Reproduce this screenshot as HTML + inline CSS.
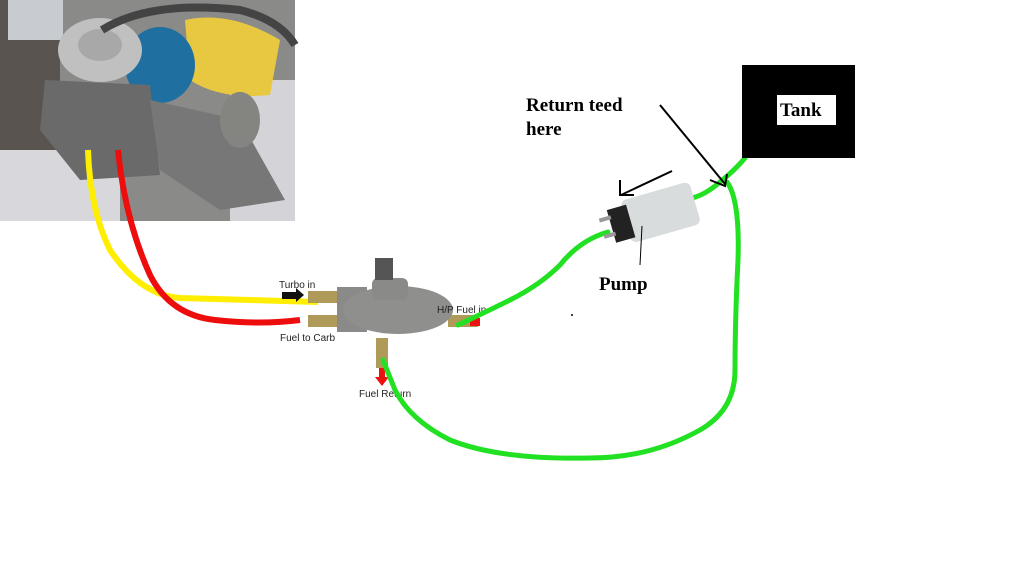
<!DOCTYPE html>
<html><head><meta charset="utf-8"><style>
html,body{margin:0;padding:0;background:#fff;width:1024px;height:564px;overflow:hidden}
</style></head><body>
<svg width="1024" height="564" viewBox="0 0 1024 564" xmlns="http://www.w3.org/2000/svg">
<rect width="1024" height="564" fill="#fff"/>
<rect x="0" y="0" width="295" height="221" fill="#8a8a88"/>
<rect x="0" y="0" width="60" height="220" fill="#5a5450"/>
<rect x="0" y="150" width="120" height="71" fill="#d8d8dc"/>
<rect x="230" y="80" width="65" height="141" fill="#d4d4d8"/>
<rect x="8" y="0" width="55" height="40" fill="#c8ccd0"/>
<path d="M185 20 Q230 10 280 40 L270 95 Q220 100 190 80 Z" fill="#e8c840"/>
<ellipse cx="160" cy="65" rx="35" ry="38" fill="#1f6fa0"/>
<ellipse cx="100" cy="50" rx="42" ry="32" fill="#c0c0c0"/>
<ellipse cx="100" cy="45" rx="22" ry="16" fill="#a8a8a8"/>
<path d="M102 30 Q150 0 240 10 Q280 20 295 45" stroke="#444" stroke-width="8" fill="none"/>
<path d="M45 80 L150 85 L160 175 L80 180 L40 130 Z" fill="#6a6a6a"/>
<path d="M150 100 L240 120 L285 200 L220 210 L160 170 Z" fill="#777"/>
<ellipse cx="240" cy="120" rx="20" ry="28" fill="#848480"/>
<path d="M88 150 Q90 210 110 250 Q140 295 180 298 L318 302" stroke="#ffee00" stroke-width="6" fill="none"/>
<path d="M118 150 Q125 220 150 275 Q170 315 215 320 Q260 325 300 320" stroke="#ee0d0d" stroke-width="6" fill="none"/>
<rect x="308" y="291" width="35" height="12" fill="#b09a5a"/>
<rect x="308" y="315" width="35" height="12" fill="#b09a5a"/>
<rect x="448" y="315" width="30" height="12" fill="#b09a5a"/>
<rect x="376" y="338" width="12" height="30" fill="#b09a5a"/>
<rect x="337" y="287" width="30" height="45" fill="#8a8a88"/>
<ellipse cx="398" cy="310" rx="55" ry="24" fill="#8f8f8d"/>
<rect x="372" y="278" width="36" height="22" rx="6" fill="#8a8a88"/>
<rect x="375" y="258" width="18" height="22" fill="#555"/>
<rect x="282" y="292" width="14" height="7" fill="#111"/>
<path d="M296 288 L304 295 L296 302 Z" fill="#111"/>
<rect x="379" y="368" width="6" height="10" fill="#e11"/>
<path d="M375 377 L389 377 L382 386 Z" fill="#e11"/>
<rect x="470" y="318" width="10" height="8" fill="#e11"/>
<g font-family="Liberation Sans, sans-serif" font-size="10" fill="#222">
<text x="279" y="288">Turbo in</text>
<text x="280" y="341">Fuel to Carb</text>
<text x="437" y="313">H/P Fuel in</text>
<text x="359" y="397">Fuel Return</text>
</g>
<path d="M458 325 Q490 310 510 300 Q540 285 560 265 Q580 240 608 232" stroke="#22e022" stroke-width="5" fill="none" stroke-linecap="round"/>
<path d="M692 198 Q705 195 720 182 Q735 170 745 158" stroke="#22e022" stroke-width="5" fill="none" stroke-linecap="round"/>
<path d="M727 182 Q740 200 738 260 Q735 320 735 370 Q735 410 700 430 Q650 458 590 458 Q500 460 450 440 Q410 420 395 390 Q385 365 383 360" stroke="#22e022" stroke-width="5" fill="none" stroke-linecap="round"/>
<g transform="rotate(-16 655 215)">
<rect x="625" y="192" width="72" height="44" rx="6" fill="#d8dcdc"/>
<rect x="610" y="197" width="20" height="34" fill="#222"/>
<rect x="600" y="203" width="12" height="4" fill="#999"/>
<rect x="600" y="220" width="12" height="4" fill="#999"/>
</g>
<line x1="642" y1="226" x2="640" y2="265" stroke="#000" stroke-width="1"/>
<text x="599" y="290" font-family="Liberation Serif, serif" font-weight="bold" font-size="19">Pump</text>
<line x1="672" y1="171" x2="621" y2="195" stroke="#000" stroke-width="2"/>
<path d="M620 180 L620 195 L634 195" stroke="#000" stroke-width="2" fill="none"/>
<line x1="660" y1="105" x2="725" y2="184" stroke="#000" stroke-width="2"/>
<path d="M710 180 L725 186 L727 174" stroke="#000" stroke-width="2" fill="none"/>
<text x="526" y="111" font-family="Liberation Serif, serif" font-weight="bold" font-size="19">Return teed</text>
<text x="526" y="135" font-family="Liberation Serif, serif" font-weight="bold" font-size="19">here</text>
<rect x="742" y="65" width="113" height="93" fill="#000"/>
<rect x="777" y="95" width="59" height="30" fill="#fff"/>
<text x="780" y="116" font-family="Liberation Serif, serif" font-weight="bold" font-size="19">Tank</text>
<circle cx="572" cy="315" r="1" fill="#000"/>
</svg>
</body></html>
